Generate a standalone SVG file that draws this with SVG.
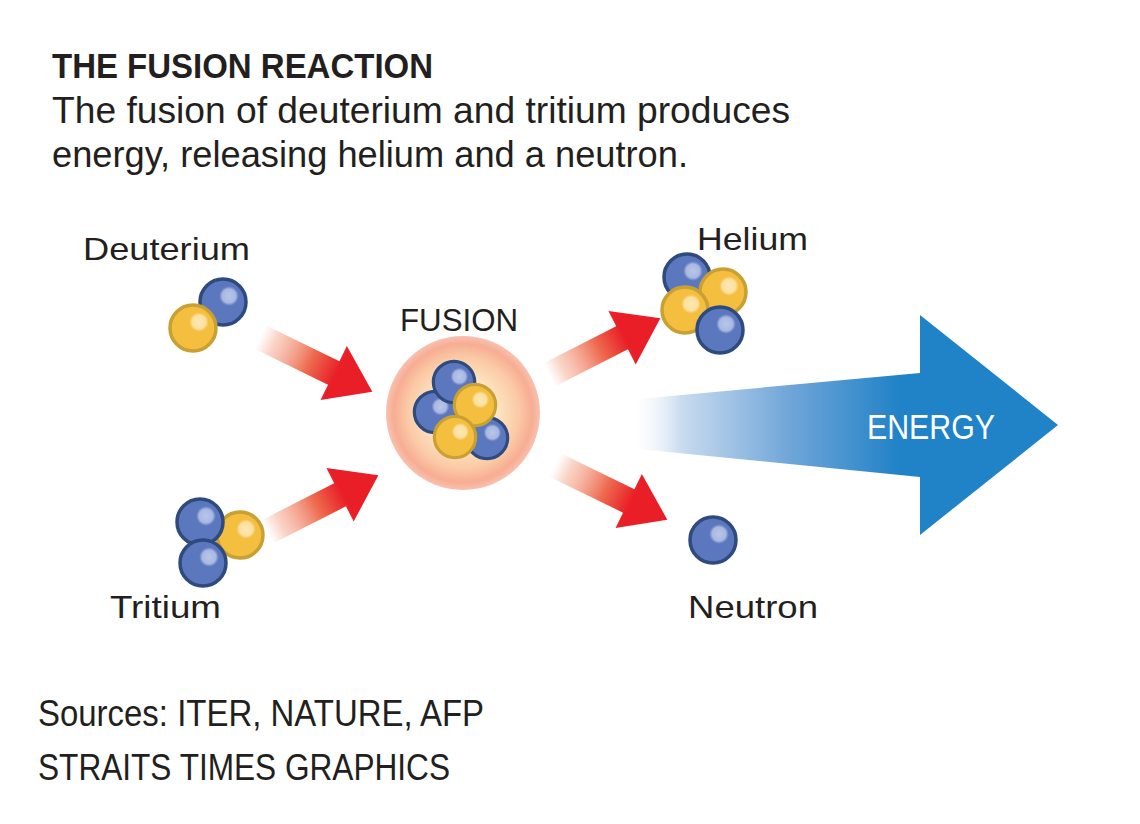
<svg xmlns="http://www.w3.org/2000/svg" xmlns:xlink="http://www.w3.org/1999/xlink" width="1140" height="824" viewBox="0 0 1140 824">
<style>
.t{font-family:"Liberation Sans","Noto Sans",Arial,sans-serif;fill:#231f20}
.title{font-weight:bold;font-size:35px}
.sub{font-size:36px}
.lbl{font-size:32px}
.src{font-size:36px}
.en{font-family:"Liberation Sans",Arial,sans-serif;font-size:35px;fill:#ffffff}
</style>
<defs>
<radialGradient id="hlB" cx="0.5" cy="0.5" r="0.5">
<stop offset="0" stop-color="#b9c6ea"/><stop offset="0.7" stop-color="#a9b8e2"/><stop offset="1" stop-color="#8ea0d6" stop-opacity="0"/>
</radialGradient>
<radialGradient id="hlY" cx="0.5" cy="0.5" r="0.5">
<stop offset="0" stop-color="#fde8b4"/><stop offset="0.7" stop-color="#fbdf9e"/><stop offset="1" stop-color="#f8d27a" stop-opacity="0"/>
</radialGradient>
<g id="blue">
<circle r="23" fill="#5b78be" stroke="#2f4a7e" stroke-width="3.5"/>
<circle cx="6" cy="-6" r="10" fill="url(#hlB)"/>
</g>
<g id="yellow">
<circle r="23" fill="#f4be3e" stroke="#c8a033" stroke-width="3.5"/>
<circle cx="6" cy="-6" r="10" fill="url(#hlY)"/>
</g>
<linearGradient id="redg" x1="0" y1="0" x2="1" y2="0">
<stop offset="0" stop-color="#f7c3b0" stop-opacity="0"/>
<stop offset="0.12" stop-color="#f6b9a3" stop-opacity="0.6"/>
<stop offset="0.45" stop-color="#ee6a4f"/>
<stop offset="0.68" stop-color="#e91e26"/>
<stop offset="1" stop-color="#e91e26"/>
</linearGradient>
<path id="redArrow" d="M0,-13 L82,-13 L82,-30 L125,0 L82,30 L82,13 L0,13 Z" fill="url(#redg)"/>
<linearGradient id="blueg" gradientUnits="userSpaceOnUse" x1="627" y1="0" x2="900" y2="0">
<stop offset="0" stop-color="#ffffff" stop-opacity="0"/>
<stop offset="0.2" stop-color="#c9dbef"/>
<stop offset="0.6" stop-color="#6fa5d8"/>
<stop offset="1" stop-color="#2082c7"/>
</linearGradient>
<radialGradient id="fusg" cx="0.5" cy="0.5" r="0.5">
<stop offset="0" stop-color="#fef4de"/>
<stop offset="0.45" stop-color="#fde4c2"/>
<stop offset="0.72" stop-color="#fbcaa6"/>
<stop offset="0.9" stop-color="#f7ad93"/>
<stop offset="1" stop-color="#f6a78e" stop-opacity="0.7"/>
</radialGradient>
</defs>

<g id="heading">
<text class="t title" x="52" y="78" textLength="381" lengthAdjust="spacingAndGlyphs">THE FUSION REACTION</text>
<text class="t sub" x="52" y="123" textLength="738" lengthAdjust="spacingAndGlyphs">The fusion of deuterium and tritium produces</text>
<text class="t sub" x="52" y="167" textLength="636" lengthAdjust="spacingAndGlyphs">energy, releasing helium and a neutron.</text>
</g>

<g id="connectors">
<use xlink:href="#redArrow" transform="translate(260,337) rotate(26)"/>
<use xlink:href="#redArrow" transform="translate(267,532) rotate(-27)"/>
<use xlink:href="#redArrow" transform="translate(549,375) rotate(-27)"/>
<use xlink:href="#redArrow" transform="translate(555,465) rotate(26)"/>
</g>

<g id="energy">
<path d="M627,400 L920,373 L920,315 L1058,425 L920,535 L920,477 L627,448 Z" fill="url(#blueg)"/>
<text class="en" x="931" y="439" text-anchor="middle" textLength="128" lengthAdjust="spacingAndGlyphs">ENERGY</text>
</g>

<g id="deuterium">
<text class="t lbl" x="83" y="260" textLength="167" lengthAdjust="spacingAndGlyphs">Deuterium</text>
<use xlink:href="#blue" x="223" y="302"/>
<use xlink:href="#yellow" x="193" y="328"/>
</g>

<g id="tritium">
<use xlink:href="#yellow" x="240" y="535"/>
<use xlink:href="#blue" x="200" y="522"/>
<use xlink:href="#blue" x="203" y="563"/>
<text class="t lbl" x="110" y="618" textLength="111" lengthAdjust="spacingAndGlyphs">Tritium</text>
</g>

<g id="fusion">
<text class="t lbl" x="400" y="331" textLength="118" lengthAdjust="spacingAndGlyphs">FUSION</text>
<circle cx="463" cy="413" r="77" fill="url(#fusg)"/>
<use xlink:href="#blue" transform="translate(435,412) scale(0.9)"/>
<use xlink:href="#blue" transform="translate(454,382) scale(0.9)"/>
<use xlink:href="#blue" transform="translate(487,438) scale(0.9)"/>
<use xlink:href="#yellow" transform="translate(475,405) scale(0.9)"/>
<use xlink:href="#yellow" transform="translate(455,437) scale(0.9)"/>
</g>

<g id="helium">
<text class="t lbl" x="697" y="250" textLength="111" lengthAdjust="spacingAndGlyphs">Helium</text>
<use xlink:href="#blue" x="687" y="277"/>
<use xlink:href="#yellow" x="723" y="292"/>
<use xlink:href="#yellow" x="685" y="310"/>
<use xlink:href="#blue" x="720" y="330"/>
</g>

<g id="neutron">
<use xlink:href="#blue" x="713" y="540"/>
<text class="t lbl" x="688" y="618" textLength="130" lengthAdjust="spacingAndGlyphs">Neutron</text>
</g>

<g id="sources">
<text class="t src" x="38" y="726" textLength="446" lengthAdjust="spacingAndGlyphs">Sources: ITER, NATURE, AFP</text>
<text class="t src" x="38" y="780" textLength="412" lengthAdjust="spacingAndGlyphs">STRAITS TIMES GRAPHICS</text>
</g>
</svg>
